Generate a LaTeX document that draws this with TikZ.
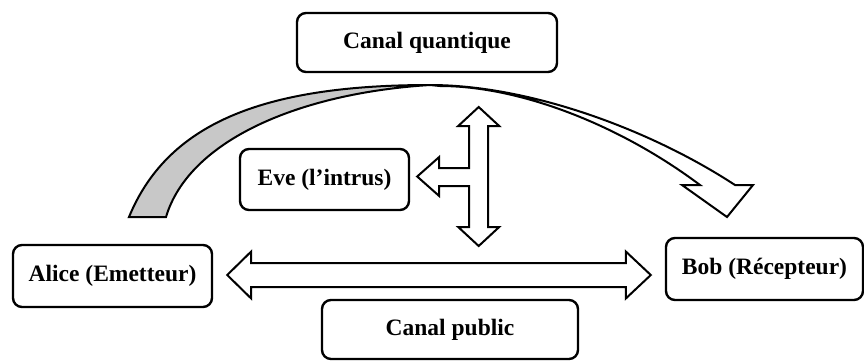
\documentclass[tikz,border=0pt]{standalone}
\usepackage{fontspec}
\setmainfont{Liberation Serif}
\usetikzlibrary{calc}
\definecolor{bandgray}{RGB}{200,200,200}

\begin{document}
\begin{tikzpicture}[x=0.5pt, y=-0.5pt,
  box/.style={shape=rectangle, draw=black, line width=1.2pt, rounded corners=4.5pt, inner sep=0pt, font=\fontsize{11.75}{14}\selectfont\bfseries},
  block/.style={draw=black, line width=1pt, fill=white, line join=miter}]
\useasboundingbox (0,0) rectangle (864,361);
\node[box, minimum width=130pt, minimum height=29.5pt] (Q) at (427,42.5) {Canal quantique};
\node[box, minimum width=84.5pt, minimum height=30.5pt] (E) at (324.5,179.5) {Eve (l’intrus)};
\node[box, minimum width=99.5pt, minimum height=31pt] (A) at (112.5,276) {Alice (Emetteur)};
\node[box, minimum width=98.5pt, minimum height=31pt] (B) at (764.5,269) {Bob (Récepteur)};
\node[box, minimum width=128pt, minimum height=29.5pt] (P) at (450,329.5) {Canal public};
\draw[line width=1pt, fill=bandgray] (129,217) .. controls (167,125) and (260,85) .. (430,85) .. controls (300,93) and (189,140) .. (166,217) -- cycle;
\draw[block] (430,85) .. controls (530,85) and (651,130) .. (735,185) -- (753,185) -- (727,217) -- (682,185) -- (700,185) .. controls (620,125) and (520,86) .. (440,86) -- cycle;
\coordinate (et) at ($(E.east)+(7,-3)$);
\draw[block] (et) -- ++(22,-19.5) -- ++(0,11) -- ++(30,0) -- ++(0,-42) -- ++(-11,0) -- ++(20.5,-19) -- ++(20.5,19) -- ++(-11,0) -- ++(0,101) -- ++(11,0) -- ++(-20.5,19) -- ++(-20.5,-19) -- ++(11,0) -- ++(0,-41) -- ++(-30,0) -- ++(0,10) -- cycle;
\coordinate (pl) at ($(A.east)+(14,-1)$);
\coordinate (pr) at ($(B.west)+(-14,6)$);
\draw[block] (pl) -- ++(24,-23.5) -- ++(0,11.5) -- ($(pr)+(-25,-12)$) -- ++(0,-11.5) -- (pr) -- ++(-25,23.5) -- ++(0,-11.5) -- ($(pl)+(24,12)$) -- ++(0,11.5) -- cycle;
\end{tikzpicture}
\end{document}
